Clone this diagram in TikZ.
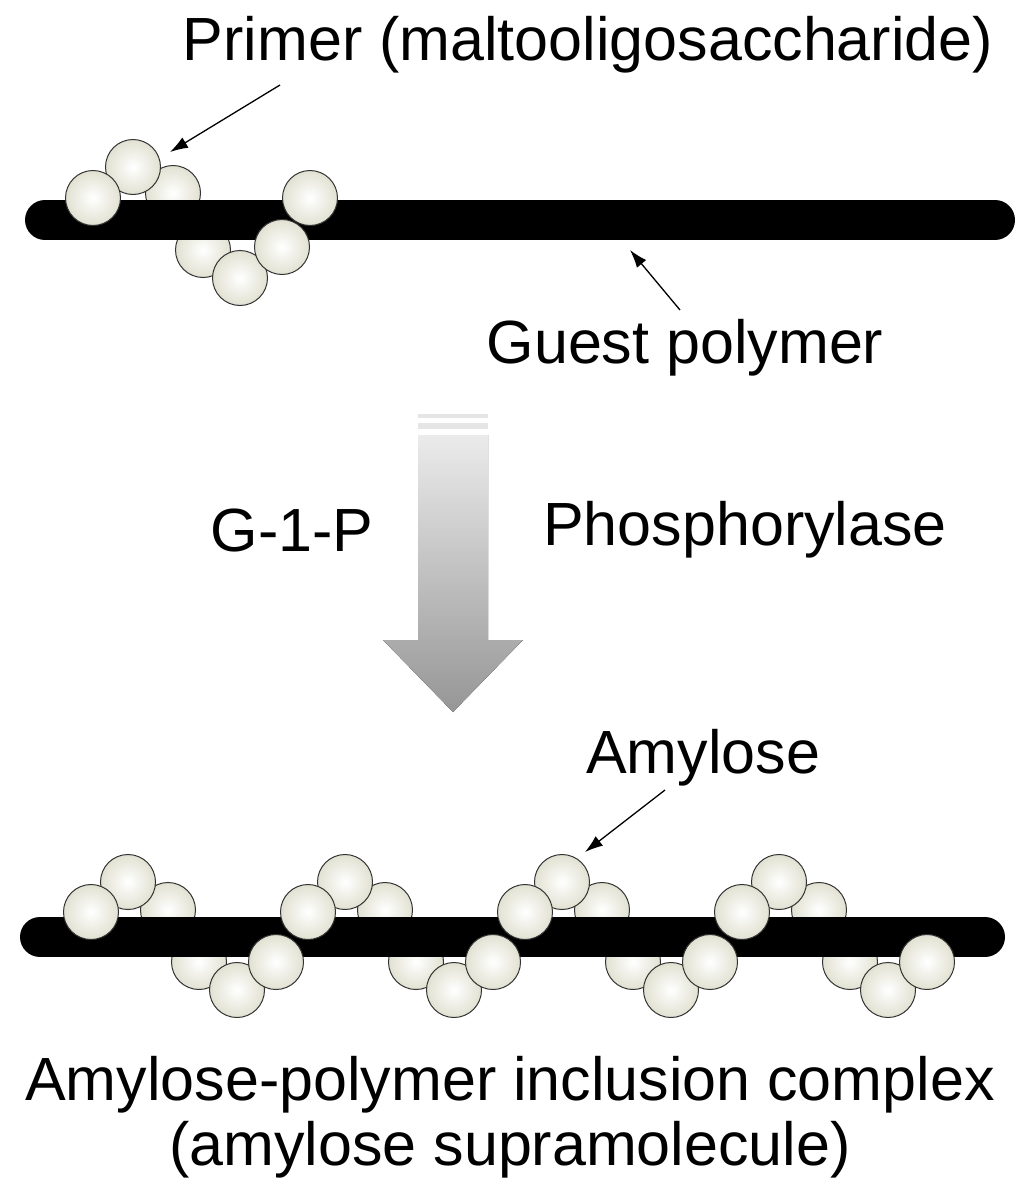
\documentclass[tikz,border=0pt]{standalone}
\usepackage{fontspec}
\setmainfont{Liberation Sans}
\usetikzlibrary{arrows.meta}
\begin{document}
\begin{tikzpicture}[x=1pt,y=-1pt,
  bead/.style={circle,draw=black!80,line width=1pt,minimum size=55pt,inner sep=0pt,inner color=white,outer color={rgb,255:red,225;green,225;blue,210}},
  lbl/.style={font=\fontsize{61}{68}\selectfont,inner sep=0pt},
  ptr/.style={-{Latex[length=18pt,width=12pt]},line width=1.3pt}]
\useasboundingbox (0,0) rectangle (1024,1186);
% top
\begin{scope}
\node[bead] (tc) at (173,193) {};
\node[bead] (td) at (203,250) {};
\draw[line width=40pt,line cap=round] (45,220) -- (995,220);
\node[bead] (tb) at (133,167) {};
\node[bead] (ta) at (93,198) {};
\node[bead] (te) at (240,278) {};
\node[bead] (tf) at (282,247) {};
\node[bead] (tg) at (310,198) {};
\end{scope}
% bottom
\foreach \i/\dx in {1/0,2/217,3/434,4/651}{
  \node[bead] (c\i) at (168+\dx,910) {};
  \node[bead] (d\i) at (199+\dx,962) {};
}
\draw[line width=40pt,line cap=round] (40,937) -- (985,937);
\foreach \i/\dx in {1/0,2/217,3/434,4/651}{
  \node[bead] (b\i) at (128+\dx,882) {};
  \node[bead] (a\i) at (91+\dx,912) {};
  \node[bead] (e\i) at (237+\dx,990) {};
  \node[bead] (f\i) at (276+\dx,962) {};
}
% arrow
\fill[top color={rgb,255:red,235;green,235;blue,235},bottom color={rgb,255:red,150;green,150;blue,150}]
 (418,435) -- (488,435) -- (488,640) -- (523,640) -- (453,712) -- (383,640) -- (418,640) -- cycle;
\fill[black!10] (418,414) rectangle (488,418);
\fill[black!10] (418,423) rectangle (488,429);
% labels
\node[lbl] (primer) at (588,45) {Primer (maltooligosaccharide)};
\coordinate (p1) at (280,85);
\coordinate (p2) at (170,152);
\draw[ptr] (p1) -- (p2);
\node[lbl] (guest) at (685,348) {Guest polymer};
\coordinate (g1) at (680,310);
\coordinate (g2) at (630,250);
\draw[ptr] (g1) -- (g2);
\node[lbl] (g1p) at (292,530) {G-1-P};
\node[lbl] (phos) at (745,530) {Phosphorylase};
\node[lbl] (amy) at (703,758) {Amylose};
\coordinate (m1) at (665,790);
\coordinate (m2) at (585,852);
\draw[ptr] (m1) -- (m2);
\node[lbl] (cx1) at (510,1085) {Amylose-polymer inclusion complex};
\node[lbl] (cx2) at (510,1150) {(amylose supramolecule)};
\end{tikzpicture}
\end{document}
